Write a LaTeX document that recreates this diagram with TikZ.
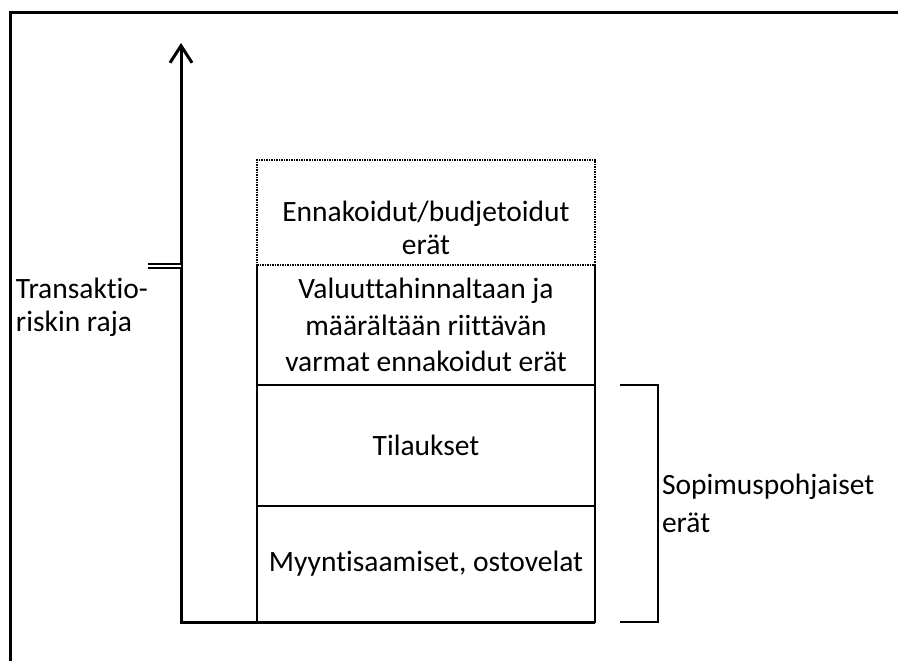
\documentclass[tikz,border=0pt]{standalone}
\usepackage{fontspec}
\setmainfont{Carlito}[Ligatures=NoCommon]
\usetikzlibrary{positioning, arrows.meta}
\tikzset{>=stealth}

\begin{document}
\begin{tikzpicture}[x=1pt, y=-1pt,
    txt/.style={font=\fontsize{29.5}{36.5}\selectfont, align=center, inner sep=0pt, outer sep=0pt},
    box/.style={txt, draw, line width=2pt, minimum width=338pt}]
    \useasboundingbox (0,0) rectangle (898,661);
    \clip (0,0) rectangle (898,661);
    \draw[line width=3pt] (10,670) |- (910,12.5);
    % stacked boxes, from the bottom up
    \node[box, minimum height=116pt, anchor=south west] (sales) at (257,622) {Myyntisaamiset, ostovelat};
    \node[box, minimum height=121pt, above=0pt of sales] (orders) {Tilaukset};
    \node[txt, minimum width=338pt, minimum height=120pt, above=0pt of orders] (firm)
        {Valuuttahinnaltaan ja\\määrältään riittävän\\varmat ennakoidut erät};
    \draw[line width=2pt] (firm.north west) -- (firm.south west) -- (firm.south east) -- (firm.north east);
    \node[box, dash pattern=on 1.5pt off 1pt, minimum height=105pt, above=0pt of firm] (budget) {};
    \node[txt, font=\fontsize{29.5}{33}\selectfont] (budgettext) at ([yshift=-15.5pt]budget.center)
        {Ennakoidut/budjetoidut\\erät};
    % axis
    \coordinate (origin) at (181,622);
    \coordinate (top) at (181,43);
    \draw[line width=3pt, {Straight Barb[length=17pt, width=22pt]}-] (top) -- (origin) -- (sales.south east);
    \coordinate (limit) at (181,266);
    \draw[line width=1.8pt, double, double distance=2pt] (limit) -- ++(-33,0);
    \node[txt, align=left, font=\fontsize{29.5}{33}\selectfont, anchor=west] (limitlabel) at (16,307.5)
        {Transaktio-\\riskin raja};
    % bracket
    \draw[line width=2.4pt] ([xshift=25pt]orders.north east) -| ([xshift=63pt]sales.south east)
        -- ([xshift=25pt]sales.south east);
    \node[txt, align=left, font=\fontsize{29.5}{38.5}\selectfont, anchor=west] (contract) at (662,503.5)
        {Sopimuspohjaiset\\erät};
\end{tikzpicture}
\end{document}
